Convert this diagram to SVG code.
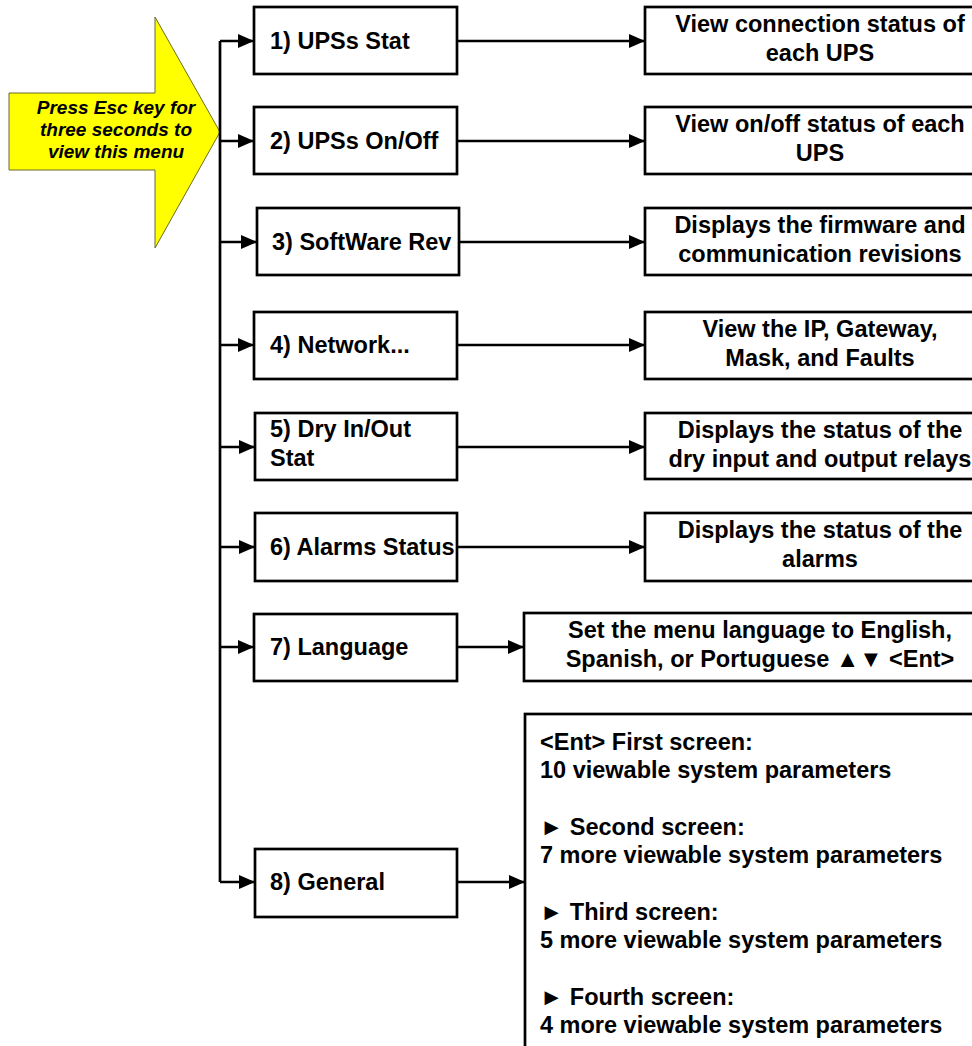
<svg xmlns="http://www.w3.org/2000/svg" width="972" height="1046" viewBox="0 0 972 1046">
<defs>
<style>
.box{fill:#fff;stroke:#000;stroke-width:2.7}
.ln{fill:none;stroke:#000;stroke-width:2.7}
.t{font-family:"Liberation Sans",Arial,sans-serif;font-weight:bold;font-size:23.5px;fill:#000}
.c{text-anchor:middle}
.y{font-family:"Liberation Sans",Arial,sans-serif;font-weight:bold;font-style:italic;font-size:19px;fill:#000;text-anchor:middle}
</style>
<marker id="ah" viewBox="0 0 16 14" refX="16" refY="7" markerWidth="16" markerHeight="14" markerUnits="userSpaceOnUse" orient="auto">
<path d="M0,0 L16,7 L0,14 Z" fill="#000"/>
</marker>
</defs>
<rect width="972" height="1046" fill="#fff"/>

<g id="start">
<polygon points="9,93 155,93 155,17 220,132 155,248 155,170 9,170" fill="#ffff00" stroke="#6b6b2a" stroke-width="1"/>
<text class="y" x="116" y="114">Press Esc key for</text>
<text class="y" x="116" y="136">three seconds to</text>
<text class="y" x="116" y="158">view this menu</text>
</g>

<g id="connectors">
<path class="ln" d="M220,41 V882"/>
<path class="ln" d="M220,41 H254" marker-end="url(#ah)"/>
<path class="ln" d="M220,141 H254" marker-end="url(#ah)"/>
<path class="ln" d="M220,242 H257" marker-end="url(#ah)"/>
<path class="ln" d="M220,345 H254" marker-end="url(#ah)"/>
<path class="ln" d="M220,447 H255" marker-end="url(#ah)"/>
<path class="ln" d="M220,547 H255" marker-end="url(#ah)"/>
<path class="ln" d="M220,647 H254" marker-end="url(#ah)"/>
<path class="ln" d="M220,882 H255" marker-end="url(#ah)"/>
<path class="ln" d="M457,41 H645" marker-end="url(#ah)"/>
<path class="ln" d="M457,141 H645" marker-end="url(#ah)"/>
<path class="ln" d="M459,242 H645" marker-end="url(#ah)"/>
<path class="ln" d="M457,345 H645" marker-end="url(#ah)"/>
<path class="ln" d="M457,447 H645" marker-end="url(#ah)"/>
<path class="ln" d="M457,547 H645" marker-end="url(#ah)"/>
<path class="ln" d="M457,647 H524" marker-end="url(#ah)"/>
<path class="ln" d="M457,882 H525" marker-end="url(#ah)"/>
</g>

<g id="n1"><rect class="box" x="254" y="7" width="203" height="67"/><text class="t" x="270" y="49">1) UPSs Stat</text></g>
<g id="n2"><rect class="box" x="254" y="107" width="203" height="67"/><text class="t" x="270" y="149">2) UPSs On/Off</text></g>
<g id="n3"><rect class="box" x="257" y="208" width="202" height="67"/><text class="t" x="272" y="250">3) SoftWare Rev</text></g>
<g id="n4"><rect class="box" x="254" y="312" width="203" height="67"/><text class="t" x="270" y="353">4) Network...</text></g>
<g id="n5"><rect class="box" x="255" y="413" width="202" height="67"/><text class="t" x="270" y="437">5) Dry In/Out</text><text class="t" x="270" y="466">Stat</text></g>
<g id="n6"><rect class="box" x="255" y="513" width="202" height="68"/><text class="t" x="270" y="555">6) Alarms Status</text></g>
<g id="n7"><rect class="box" x="254" y="614" width="203" height="67"/><text class="t" x="270" y="655">7) Language</text></g>
<g id="n8"><rect class="box" x="255" y="849" width="202" height="68"/><text class="t" x="270" y="890">8) General</text></g>

<g id="r1"><rect class="box" x="645" y="7" width="351" height="67"/><text class="t c" x="820" y="32">View connection status of</text><text class="t c" x="820" y="61">each UPS</text></g>
<g id="r2"><rect class="box" x="645" y="107" width="351" height="67"/><text class="t c" x="820" y="132">View on/off status of each</text><text class="t c" x="820" y="161">UPS</text></g>
<g id="r3"><rect class="box" x="645" y="208" width="351" height="67"/><text class="t c" x="820" y="233">Displays the firmware and</text><text class="t c" x="820" y="262">communication revisions</text></g>
<g id="r4"><rect class="box" x="645" y="312" width="351" height="67"/><text class="t c" x="820" y="337">View the IP, Gateway,</text><text class="t c" x="820" y="366">Mask, and Faults</text></g>
<g id="r5"><rect class="box" x="645" y="413" width="351" height="66"/><text class="t c" x="820" y="438">Displays the status of the</text><text class="t c" x="820" y="467">dry input and output relays</text></g>
<g id="r6"><rect class="box" x="645" y="513" width="351" height="68"/><text class="t c" x="820" y="538">Displays the status of the</text><text class="t c" x="820" y="567">alarms</text></g>
<g id="r7"><rect class="box" x="524" y="613" width="472" height="68"/><text class="t c" x="760" y="638">Set the menu language to English,</text><text class="t c" x="760" y="667">Spanish, or Portuguese ▲▼ &lt;Ent&gt;</text></g>
<g id="r8"><rect class="box" x="525" y="714" width="471" height="360"/>
<text class="t" x="540" y="750">&lt;Ent&gt; First screen:</text>
<text class="t" x="540" y="778">10 viewable system parameters</text>
<text class="t" x="540" y="835">► Second screen:</text>
<text class="t" x="540" y="863">7 more viewable system parameters</text>
<text class="t" x="540" y="920">► Third screen:</text>
<text class="t" x="540" y="948">5 more viewable system parameters</text>
<text class="t" x="540" y="1005">► Fourth screen:</text>
<text class="t" x="540" y="1033">4 more viewable system parameters</text>
</g>
</svg>
